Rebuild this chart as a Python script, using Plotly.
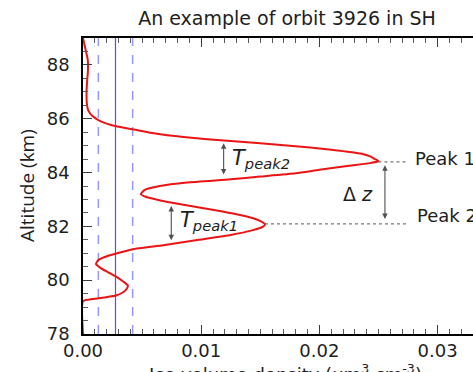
import plotly.graph_objects as go

# ---- data ----
altitude_km = [89.0, 88.6, 88.2, 87.8, 87.4, 87.0, 86.6, 86.3, 86.1, 85.95, 85.82, 85.72, 85.6, 85.46,
               85.32, 85.17, 85.0, 84.85, 84.7, 84.6, 84.5, 84.42, 84.36, 84.25, 84.1, 83.97, 83.85,
               83.75, 83.63, 83.5, 83.35, 83.2, 83.1, 83.0, 82.8, 82.6, 82.45, 82.3, 82.18, 82.08,
               81.98, 81.85, 81.68, 81.5, 81.3, 81.15, 81.0, 80.9, 80.75, 80.6, 80.45, 80.3, 80.13,
               79.95, 79.8, 79.68, 79.55, 79.43, 79.36, 79.3, 79.22, 78.0]
ice_density = [0.0000, 0.0002, 0.0004, 0.00042, 0.00035, 0.0003, 0.00032, 0.00045, 0.0008, 0.0013,
               0.0020, 0.0028, 0.0043, 0.0060, 0.0085, 0.0125, 0.0175, 0.0210, 0.0236, 0.0243,
               0.0247, 0.0250, 0.0244, 0.0225, 0.0200, 0.0180, 0.0150, 0.0125, 0.0088, 0.0065,
               0.0052, 0.0049, 0.0053, 0.0062, 0.0085, 0.0112, 0.0130, 0.0144, 0.0151, 0.0154,
               0.0152, 0.0143, 0.0125, 0.0098, 0.0068, 0.0042, 0.0029, 0.0021, 0.0013, 0.0011,
               0.0015, 0.0021, 0.0028, 0.0034, 0.0038, 0.0037, 0.0034, 0.0028, 0.0018, 0.0008,
               0.0000, 0.0000]

mean_level = 0.00275
std_levels = [0.0013, 0.0042]

peak1 = (0.0250, 84.40)
peak2 = (0.0154, 82.09)
label_x = 0.0275

t_peak2 = (0.0119, 85.09, 83.87)
t_peak1 = (0.00747, 82.76, 81.43)
dz_arrow = (0.02555, 84.27, 82.22)

x_ticks = [0.00, 0.01, 0.02, 0.03]
x_tick_labels = ["0.00", "0.01", "0.02", "0.03"]
y_ticks = [78, 80, 82, 84, 86, 88]

FONT = "DejaVu Sans"
TXT = "rgb(30,30,30)"
fig = go.Figure()

# vertical reference lines
for v in std_levels:
    fig.add_trace(go.Scatter(x=[v, v], y=[78, 89], mode="lines",
                             line=dict(color="rgb(150,150,255)", width=1.5, dash="dash"),
                             showlegend=False, hoverinfo="skip"))
fig.add_trace(go.Scatter(x=[mean_level, mean_level], y=[78, 89], mode="lines",
                         line=dict(color="rgb(80,80,240)", width=1.2),
                         showlegend=False, hoverinfo="skip"))

# dotted peak guides
for px, py in [peak1, peak2]:
    fig.add_trace(go.Scatter(x=[px, label_x], y=[py, py], mode="lines",
                             line=dict(color="rgb(120,120,120)", width=1.3, dash="dot"),
                             showlegend=False, hoverinfo="skip"))

# profile
fig.add_trace(go.Scatter(x=ice_density, y=altitude_km, mode="lines",
                         line=dict(color="rgb(235,20,20)", width=2, shape="spline", smoothing=0.5),
                         showlegend=False))

annotations = []
for (ax_x, y_top, y_bot) in [t_peak2, t_peak1, dz_arrow]:
    annotations.append(dict(x=ax_x, y=y_top, ax=ax_x, ay=y_bot, xref="x", yref="y",
                            axref="x", ayref="y", text="", showarrow=True,
                            arrowside="end+start", arrowhead=2, arrowsize=1.0,
                            arrowwidth=1.1, arrowcolor="rgb(80,80,80)", standoff=0, startstandoff=0))

annotations += [
    dict(x=0.01245, y=84.50, xref="x", yref="y", text="<i>T<sub>peak2</sub></i>",
         showarrow=False, xanchor="left", yanchor="middle", font=dict(family=FONT, size=21, color=TXT)),
    dict(x=0.00800, y=82.20, xref="x", yref="y", text="<i>T<sub>peak1</sub></i>",
         showarrow=False, xanchor="left", yanchor="middle", font=dict(family=FONT, size=21, color=TXT)),
    dict(x=0.0247, y=83.2, xref="x", yref="y", text="Δ <i>z</i>",
         showarrow=False, xanchor="right", yanchor="middle", font=dict(family=FONT, size=19, color=TXT)),
    dict(x=0.0279, y=84.54, xref="x", yref="y", text="Peak 1",
         showarrow=False, xanchor="left", yanchor="middle", font=dict(family=FONT, size=18, color=TXT)),
    dict(x=0.0281, y=82.39, xref="x", yref="y", text="Peak 2",
         showarrow=False, xanchor="left", yanchor="middle", font=dict(family=FONT, size=18, color=TXT)),
    dict(x=0.0, y=0.5, xref="paper", yref="paper", xshift=-56, text="Altitude (km)", textangle=-90,
         showarrow=False, xanchor="center", yanchor="middle", font=dict(family="Open Sans", size=19, color=TXT)),
    dict(x=(285 - 83) / 390, y=0, xref="paper", yref="paper", yshift=-39,
         text="Ice volume density (μm<sup>3</sup> cm<sup>-3</sup>)",
         showarrow=False, xanchor="center", yanchor="middle", font=dict(family=FONT, size=18, color=TXT)),
]

fig.update_layout(
    width=473, height=372,
    margin=dict(l=83, r=0, t=38, b=38),
    paper_bgcolor="white", plot_bgcolor="white",
    title=dict(text="An example of orbit 3926 in SH", x=287 / 473, xref="container", xanchor="center",
               y=1 - 18 / 372, yref="container", yanchor="middle",
               font=dict(family=FONT, size=19, color=TXT)),
    annotations=annotations,
    showlegend=False,
)
fig.update_xaxes(range=[0, 0.033], tickvals=x_ticks, ticktext=x_tick_labels,
                 ticks="inside", ticklen=9, tickwidth=1.2, tickcolor="rgb(60,60,60)",
                 minor=dict(dtick=0.001, ticks="inside", ticklen=5, tickwidth=1, tickcolor="rgb(90,90,90)"),
                 showline=True, linecolor="black", linewidth=1.5, mirror="ticks",
                 showgrid=False, zeroline=False,
                 tickfont=dict(family=FONT, size=18, color=TXT), ticklabelstandoff=0)
fig.update_yaxes(range=[78, 89], tickvals=y_ticks,
                 ticks="inside", ticklen=9, tickwidth=1.2, tickcolor="rgb(60,60,60)",
                 minor=dict(dtick=0.5, ticks="inside", ticklen=5, tickwidth=1, tickcolor="rgb(90,90,90)"),
                 showline=True, linecolor="black", linewidth=1.5, mirror=False,
                 showgrid=False, zeroline=False,
                 tickfont=dict(family=FONT, size=18, color=TXT), ticklabelstandoff=8)

fig.write_html("out.html")
